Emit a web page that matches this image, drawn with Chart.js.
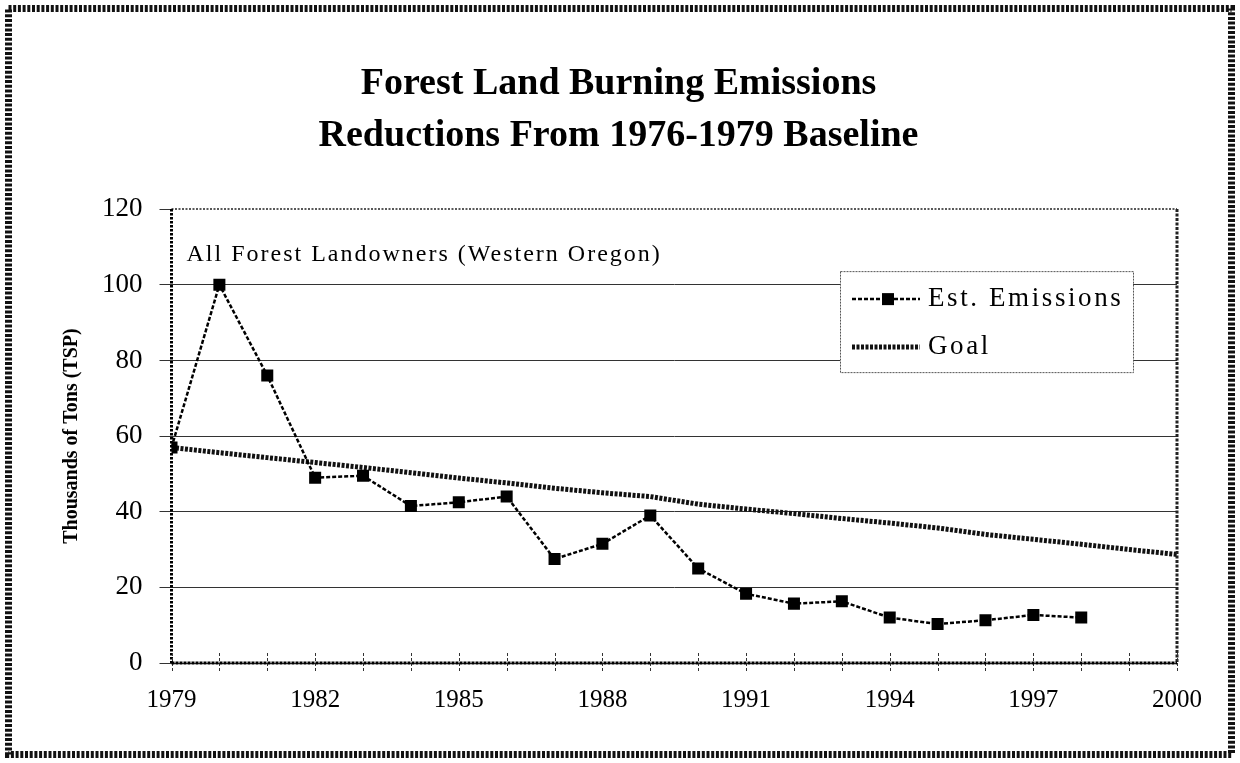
<!DOCTYPE html>
<html>
<head>
<meta charset="utf-8">
<title>Forest Land Burning Emissions</title>
<script src="https://cdn.jsdelivr.net/npm/chart.js@4/dist/chart.umd.min.js"></script>
<style>
  html, body { margin: 0; padding: 0; background: #fff; }
  #wrap { width: 1240px; height: 763px; position: relative; }
</style>
</head>
<body>
<div id="wrap"><canvas id="myChart" width="1240" height="763"></canvas></div>
<script>
// values (thousands of tons TSP)
const emissionYears = [1979, 1980, 1981, 1982, 1983, 1984, 1985, 1986, 1987, 1988,
  1989, 1990, 1991, 1992, 1993, 1994, 1995, 1996, 1997, 1998];
const emissions = [57, 100, 76, 49, 49.5, 41.5, 42.5, 44, 27.5, 31.5,
  39, 25, 18.3, 15.7, 16.3, 12, 10.3, 11.3, 12.7, 12];

const goalYears = [1979, 1980, 1981, 1982, 1983, 1984, 1985, 1986, 1987, 1988, 1989,
  1990, 1991, 1992, 1993, 1994, 1995, 1996, 1997, 1998, 1999, 2000];
const goal = [57, 55.6, 54.3, 53, 51.7, 50.3, 48.9, 47.6, 46.2, 45, 44,
  42, 40.7, 39.5, 38.2, 37, 35.7, 34, 32.7, 31.4, 30, 28.7];

const xLabelYears = [1979, 1982, 1985, 1988, 1991, 1994, 1997, 2000];
const yTicks = [0, 20, 40, 60, 80, 100, 120];

const titleLines = ["Forest Land Burning Emissions", "Reductions From 1976-1979 Baseline"];
const noteText = "All Forest Landowners (Western Oregon)";

const SERIF = "'Liberation Serif', 'Times New Roman', serif";

// extra drawing: axis lines, plot border, crossing x ticks, note, legend box, frame
const decorations = {
  id: "decorations",
  afterDatasetsDraw(chart) {
    const ctx = chart.ctx;
    const area = chart.chartArea;
    const xs = chart.scales.x;

    ctx.save();

    // top edge of the plot area (thin dotted)
    ctx.fillStyle = "#fff";
    ctx.fillRect(area.left, area.top - 1, area.right - area.left, 2);
    ctx.strokeStyle = "#222";
    ctx.lineWidth = 1.5;
    ctx.setLineDash([2, 1.5]);
    ctx.beginPath();
    ctx.moveTo(area.left, area.top);
    ctx.lineTo(area.right, area.top);
    ctx.stroke();

    // right edge
    ctx.lineWidth = 3;
    ctx.setLineDash([3, 1.5]);
    ctx.beginPath();
    ctx.moveTo(area.right, area.top);
    ctx.lineTo(area.right, area.bottom);
    ctx.stroke();

    // left axis (dotted)
    ctx.strokeStyle = "#000";
    ctx.lineWidth = 3;
    ctx.setLineDash([2.5, 1.5]);
    ctx.beginPath();
    ctx.moveTo(area.left, area.top);
    ctx.lineTo(area.left, area.bottom);
    ctx.stroke();

    // year ticks crossing the x axis
    ctx.strokeStyle = "#333";
    ctx.lineWidth = 1;
    ctx.setLineDash([3, 2]);
    for (let yr = 1979; yr <= 2000; yr++) {
      const px = Math.round(xs.getPixelForValue(yr)) + 0.5;
      ctx.beginPath();
      ctx.moveTo(px, area.bottom - 10);
      ctx.lineTo(px, area.bottom + 10);
      ctx.stroke();
    }

    // bottom axis (dashed)
    ctx.strokeStyle = "#000";
    ctx.lineWidth = 3;
    ctx.setLineDash([3, 1]);
    ctx.beginPath();
    ctx.moveTo(area.left, area.bottom);
    ctx.lineTo(area.right, area.bottom);
    ctx.stroke();

    const spacing = "letterSpacing" in ctx;

    // note inside plot
    ctx.setLineDash([]);
    ctx.fillStyle = "#000";
    ctx.font = "24px " + SERIF;
    if (spacing) ctx.letterSpacing = "2px";
    ctx.textBaseline = "middle";
    ctx.textAlign = "left";
    ctx.fillText(noteText, area.left + 15, area.top + 46);

    // legend box
    const lx = area.right - 337, ly = area.top + 62, lw = 293, lh = 101;
    ctx.fillStyle = "#fff";
    ctx.fillRect(lx, ly, lw, lh);
    ctx.strokeStyle = "#555";
    ctx.lineWidth = 1;
    ctx.setLineDash([2, 1]);
    ctx.strokeRect(lx + 0.5, ly + 0.5, lw, lh);

    const items = chart.data.datasets;
    items.forEach((ds, i) => {
      const cy = ly + 28 + i * 48;
      ctx.strokeStyle = ds.borderColor;
      ctx.lineWidth = ds.borderWidth;
      ctx.setLineDash(ds.borderDash);
      ctx.beginPath();
      ctx.moveTo(lx + 12, cy);
      ctx.lineTo(lx + 80, cy);
      ctx.stroke();
      if (ds.pointRadius > 0) {
        ctx.setLineDash([]);
        ctx.fillStyle = "#000";
        ctx.fillRect(lx + 42, cy - 6, 12, 12);
      }
      ctx.setLineDash([]);
      ctx.fillStyle = "#000";
      ctx.font = "27px " + SERIF;
      if (spacing) ctx.letterSpacing = "2.6px";
      ctx.fillText(ds.label, lx + 88, cy);
    });
    if (spacing) ctx.letterSpacing = "0px";

    // outer dotted frame
    ctx.strokeStyle = "#111";
    ctx.lineWidth = 7;
    ctx.setLineDash([3, 1.7]);
    ctx.strokeRect(8.5, 8.5, chart.width - 17, chart.height - 17);

    ctx.restore();
  }
};

const whiteBg = {
  id: "whiteBg",
  beforeDraw(chart) {
    const ctx = chart.ctx;
    ctx.save();
    ctx.fillStyle = "#fff";
    ctx.fillRect(0, 0, chart.width, chart.height);
    ctx.restore();
  }
};

const ctx = document.getElementById("myChart").getContext("2d");
new Chart(ctx, {
  type: "line",
  data: {
    datasets: [
      {
        label: "Est. Emissions",
        data: emissionYears.map((yr, i) => ({ x: yr, y: emissions[i] })),
        borderColor: "#000",
        borderWidth: 2.5,
        borderDash: [4, 2],
        pointStyle: "rect",
        pointRadius: 8.5,
        pointBackgroundColor: "#000",
        pointBorderWidth: 0,
        tension: 0,
        fill: false,
      },
      {
        label: "Goal",
        data: goalYears.map((yr, i) => ({ x: yr, y: goal[i] })),
        borderColor: "#111",
        borderWidth: 5,
        borderDash: [3, 1.5],
        pointRadius: 0,
        tension: 0,
        fill: false,
      },
    ],
  },
  options: {
    responsive: false,
    animation: false,
    layout: { padding: { left: 60, right: 63, top: 20, bottom: 34 } },
    plugins: {
      legend: { display: false },
      tooltip: { enabled: false },
      title: {
        display: true,
        text: titleLines,
        color: "#000",
        font: { family: SERIF, size: 38, weight: "bold", lineHeight: 1.37 },
        padding: { top: 38, bottom: 47 },
      },
    },
    scales: {
      x: {
        type: "linear",
        min: 1979,
        max: 2000,
        afterBuildTicks(scale) {
          scale.ticks = xLabelYears.map((v) => ({ value: v }));
        },
        grid: { display: false },
        border: { display: false },
        ticks: {
          color: "#000",
          padding: 14,
          font: { family: SERIF, size: 25 },
          callback: (v) => String(v),
        },
      },
      y: {
        min: 0,
        max: 120,
        afterBuildTicks(scale) {
          scale.ticks = yTicks.map((v) => ({ value: v }));
        },
        grid: { color: "#333", lineWidth: 1, tickLength: 12 },
        border: { display: false },
        ticks: {
          color: "#000",
          padding: 17,
          font: { family: SERIF, size: 27 },
        },
        title: {
          display: true,
          text: "Thousands of Tons (TSP)",
          color: "#000",
          font: { family: SERIF, size: 20, weight: "bold" },
          padding: { top: 0, bottom: 1 },
        },
      },
    },
  },
  plugins: [whiteBg, decorations],
});
</script>
</body>
</html>
